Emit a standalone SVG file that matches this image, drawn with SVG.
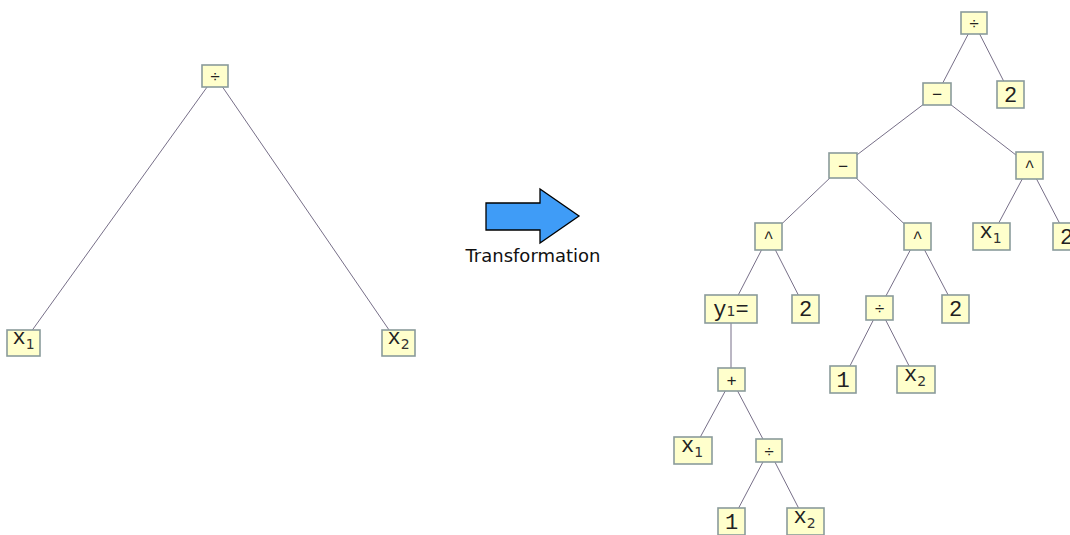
<svg xmlns="http://www.w3.org/2000/svg" width="1070" height="535" viewBox="0 0 1070 535">
<style>
.b{fill:#ffffcc;stroke:#8a9b9b;stroke-width:1.6}
.e line{stroke:#776f88;stroke-width:1}
.t{font-family:"Courier New","Nimbus Mono PS","FreeMono","Liberation Mono",monospace;font-size:22px;fill:#222;text-anchor:middle}
.o{font-family:"Liberation Mono","DejaVu Sans Mono",monospace;font-size:17px;fill:#222;text-anchor:middle}
.s{font-family:"DejaVu Sans","Liberation Sans",sans-serif;font-size:14px;fill:#333}
.lbl{font-family:"DejaVu Sans","Liberation Sans",sans-serif;font-size:18px;fill:#111;text-anchor:middle}
</style>
<rect width="1070" height="535" fill="#ffffff"/>
<g id="connectors" class="e">
<line x1="215" y1="76" x2="23" y2="343"/>
<line x1="215" y1="76" x2="398" y2="343"/>
<line x1="974" y1="23" x2="937" y2="94"/>
<line x1="974" y1="23" x2="1010.5" y2="94.5"/>
<line x1="937" y1="94" x2="843" y2="165.5"/>
<line x1="937" y1="94" x2="1029.5" y2="165.5"/>
<line x1="843" y1="165.5" x2="768.5" y2="236.5"/>
<line x1="843" y1="165.5" x2="917.5" y2="236.5"/>
<line x1="1029.5" y1="165.5" x2="991.5" y2="236.5"/>
<line x1="1029.5" y1="165.5" x2="1066.5" y2="236.5"/>
<line x1="768.5" y1="236.5" x2="731" y2="309"/>
<line x1="768.5" y1="236.5" x2="805.5" y2="309"/>
<line x1="917.5" y1="236.5" x2="879.5" y2="308"/>
<line x1="917.5" y1="236.5" x2="955.5" y2="309"/>
<line x1="731" y1="309" x2="731" y2="379.5"/>
<line x1="879.5" y1="308" x2="843" y2="379.5"/>
<line x1="879.5" y1="308" x2="916" y2="379.5"/>
<line x1="731.5" y1="379.5" x2="693" y2="450.5"/>
<line x1="731.5" y1="379.5" x2="769" y2="450.5"/>
<line x1="769" y1="450.5" x2="731.5" y2="521.5"/>
<line x1="769" y1="450.5" x2="805.5" y2="521.5"/>
</g>
<g id="L-div"><rect class="b" x="202" y="65" width="26" height="22"/><text class="o" x="215" y="82">÷</text></g>
<g id="L-x1"><rect class="b" x="7" y="330" width="33" height="26"/><text class="t" x="23.5" y="344">x<tspan class="s" dy="5">1</tspan></text></g>
<g id="L-x2"><rect class="b" x="382" y="330" width="33" height="26"/><text class="t" x="398.5" y="344">x<tspan class="s" dy="5">2</tspan></text></g>
<g id="arrow"><polygon points="486,203 540,203 540,189 579,216 540,243 540,230 486,230" fill="#3f9cf7" stroke="#000" stroke-width="1.3"/><text class="lbl" x="533" y="262">Transformation</text></g>
<g id="n1"><rect class="b" x="961" y="12" width="26" height="22"/><text class="o" x="974" y="29">÷</text></g>
<g id="n2"><rect class="b" x="923" y="83" width="28" height="22"/><text class="o" x="937" y="100">−</text></g>
<g id="n3"><rect class="b" x="997" y="81" width="27" height="27"/><text class="t" x="1010.5" y="101.5">2</text></g>
<g id="n4"><rect class="b" x="829" y="153" width="28" height="25"/><text class="o" x="843" y="171.5">−</text></g>
<g id="n5"><rect class="b" x="1016" y="152" width="27" height="27"/><text class="o" x="1029.5" y="172">^</text></g>
<g id="n6"><rect class="b" x="755" y="223" width="27" height="27"/><text class="o" x="768.5" y="243">^</text></g>
<g id="n7"><rect class="b" x="904" y="223" width="27" height="27"/><text class="o" x="917.5" y="243">^</text></g>
<g id="n8"><rect class="b" x="973" y="223" width="37" height="27"/><text class="t" x="990.5" y="238">x<tspan class="s" dy="5">1</tspan></text></g>
<g id="n9"><rect class="b" x="1053" y="223" width="27" height="27"/><text class="t" x="1066.5" y="243.5">2</text></g>
<g id="n10"><rect class="b" x="705" y="295" width="52" height="28"/><text class="t" x="731" y="316">y<tspan class="s" font-size="13">1</tspan>=</text></g>
<g id="n11"><rect class="b" x="792" y="295" width="27" height="28"/><text class="t" x="805.5" y="316">2</text></g>
<g id="n12"><rect class="b" x="866" y="296" width="27" height="24"/><text class="o" x="879.5" y="314">÷</text></g>
<g id="n13"><rect class="b" x="942" y="295" width="27" height="28"/><text class="t" x="955.5" y="316">2</text></g>
<g id="n14"><rect class="b" x="718" y="368" width="27" height="23"/><text class="o" x="731.5" y="385.5">+</text></g>
<g id="n15"><rect class="b" x="830" y="366" width="26" height="27"/><text class="t" x="843" y="386.5">1</text></g>
<g id="n16"><rect class="b" x="897" y="366" width="38" height="27"/><text class="t" x="915" y="381">x<tspan class="s" dy="5">2</tspan></text></g>
<g id="n17"><rect class="b" x="674" y="437" width="38" height="27"/><text class="t" x="692" y="452">x<tspan class="s" dy="5">1</tspan></text></g>
<g id="n18"><rect class="b" x="756" y="439" width="26" height="23"/><text class="o" x="769" y="456.5">÷</text></g>
<g id="n19"><rect class="b" x="718" y="508" width="27" height="27"/><text class="t" x="731.5" y="528.5">1</text></g>
<g id="n20"><rect class="b" x="787" y="508" width="37" height="27"/><text class="t" x="804.5" y="523">x<tspan class="s" dy="5">2</tspan></text></g>
</svg>
